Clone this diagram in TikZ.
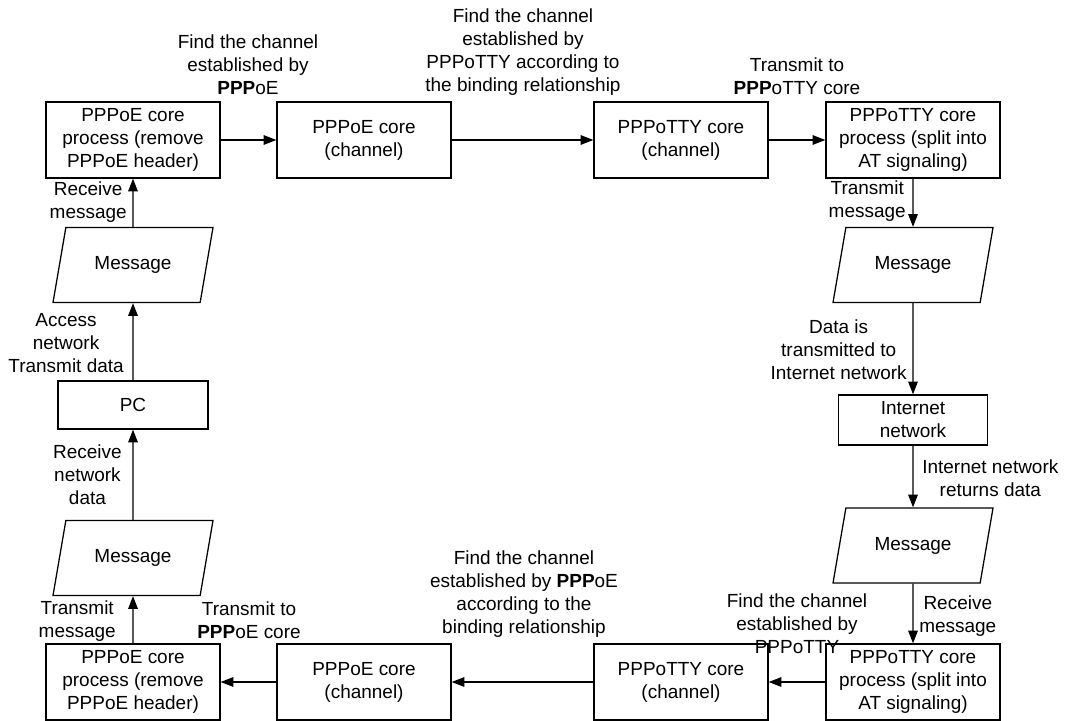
\documentclass[tikz,border=0pt]{standalone}
\usepackage{fontspec}
\setmainfont{Liberation Sans}
\usetikzlibrary{shapes.geometric,arrows.meta}

\tikzset{
  box/.style={draw, line width=0.9pt, align=center, minimum width=4.35cm, minimum height=1.9cm, inner sep=1pt},
  msg/.style={draw, line width=0.9pt, trapezium, trapezium left angle=64, trapezium right angle=116, trapezium stretches body, minimum width=4cm, minimum height=1.875cm},
  lbl/.style={align=center, inner sep=0pt},
  flow/.style={line width=0.9pt, -{Triangle[length=3.2mm,width=2.4mm]}}
}

\begin{document}
\begin{tikzpicture}[font=\fontsize{13.5}{16.4}\selectfont]
\useasboundingbox (0,0) rectangle (26.625,-18.025);

% top row
\node[box] (pppoeproc) at (3.325,-3.5) {PPPoE core\\process (remove\\PPPoE header)};
\node[box] (pppoecore) at (9.1,-3.5) {PPPoE core\\(channel)};
\node[box] (ttycore) at (17.025,-3.5) {PPPoTTY core\\(channel)};
\node[box] (ttyproc) at (22.825,-3.5) {PPPoTTY core\\process (split into\\AT signaling)};

% right column
\node[msg] (msgtx) at (22.825,-6.625) {Message};
\node[box, minimum width=3.725cm, minimum height=1.25cm] (inet) at (22.825,-10.5) {Internet\\network};
\node[msg] (msgrx) at (22.825,-13.6375) {Message};

% bottom row
\node[box] (ttyprocb) at (22.825,-17.05) {PPPoTTY core\\process (split into\\AT signaling)};
\node[box] (ttycoreb) at (17.025,-17.05) {PPPoTTY core\\(channel)};
\node[box] (pppoecoreb) at (9.1,-17.05) {PPPoE core\\(channel)};
\node[box] (pppoeprocb) at (3.325,-17.05) {PPPoE core\\process (remove\\PPPoE header)};

% left column
\node[msg] (msgpcb) at (3.325,-13.95) {Message};
\node[box, minimum width=3.75cm, minimum height=1.2cm] (pc) at (3.325,-10.125) {PC};
\node[msg] (msgpc) at (3.325,-6.625) {Message};

% connectors
\draw[flow] (pppoeproc) -- (pppoecore);
\draw[flow] (pppoecore) -- (ttycore);
\draw[flow] (ttycore) -- (ttyproc);
\draw[flow] (ttyproc) -- (msgtx);
\draw[flow] (msgtx) -- (inet);
\draw[flow] (inet) -- (msgrx);
\draw[flow] (msgrx) -- (ttyprocb);
\draw[flow] (ttyprocb) -- (ttycoreb);
\draw[flow] (ttycoreb) -- (pppoecoreb);
\draw[flow] (pppoecoreb) -- (pppoeprocb);
\draw[flow] (pppoeprocb) -- (msgpcb);
\draw[flow] (msgpcb) -- (pc);
\draw[flow] (pc) -- (msgpc);
\draw[flow] (msgpc) -- (pppoeproc);

% labels
\node[lbl] (l1) at (6.2,-1.625) {Find the channel\\established by\\\textbf{PPP}oE};
\node[lbl] (l2) at (13.075,-1.3125) {Find the channel\\established by\\PPPoTTY according to\\the binding relationship};
\node[lbl] (l3) at (19.925,-1.9125) {Transmit to\\\textbf{PPP}oTTY core};
\node[lbl, anchor=east] (l4) at (22.65,-5.0375) {Transmit\\message};
\node[lbl, anchor=east] (l5) at (22.675,-8.75) {Data is\\transmitted to\\Internet network};
\node[lbl, anchor=west] (l6) at (23.05,-11.9625) {Internet network\\returns data};
\node[lbl, anchor=west] (l7) at (22.975,-15.4125) {Receive\\message};
\node[lbl] (l8) at (19.925,-15.6) {Find the channel\\established by\\PPPoTTY};
\node[lbl] (l9) at (13.1,-14.8625) {Find the channel\\established by \textbf{PPP}oE\\according to the\\binding relationship};
\node[lbl] (l10) at (6.225,-15.5125) {Transmit to\\\textbf{PPP}oE core};
\node[lbl, anchor=east] (l11) at (2.9,-15.525) {Transmit\\message};
\node[lbl, anchor=east] (l12) at (3.05,-11.875) {Receive\\network\\data};
\node[lbl, anchor=east] (l13) at (3.1,-8.575) {Access\\network\\Transmit data};
\node[lbl, anchor=east] (l14) at (3.175,-5.05) {Receive\\message};
\end{tikzpicture}
\end{document}
